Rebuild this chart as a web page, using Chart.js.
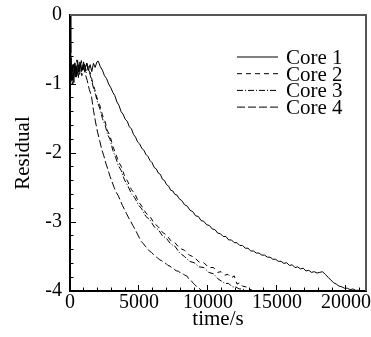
<!DOCTYPE html>
<html>
<head>
<meta charset="utf-8">
<script src="https://cdn.jsdelivr.net/npm/chart.js@4.4.0/dist/chart.umd.min.js"></script>
<style>
  html, body { margin: 0; padding: 0; background: #fff; }
  #wrap { width: 371px; height: 337px; }
</style>
</head>
<body>
<div id="wrap"><canvas id="chart" width="371" height="337"></canvas></div>
<script>
// series (time in s, log residual)
const seriesLabels = ['Core 1', 'Core 2', 'Core 3', 'Core 4'];

const core1Time = [0, 60, 120, 200, 280, 360, 450, 550, 650, 760, 870, 980, 1100, 1220, 1340, 1460, 1580, 1700, 1820, 1950,
  2050, 2200, 2350, 2500, 2650, 2800, 2950, 3100, 3250, 3400, 3550, 3700, 3850, 4000, 4150, 4300, 4450, 4600, 4750, 4900,
  5050, 5200, 5350, 5500, 5650, 5800, 5950, 6100, 6250, 6400, 6550, 6700, 6850, 7000, 7150, 7300, 7450, 7600, 7750, 7900,
  8100, 8300, 8500, 8700, 8900, 9100, 9300, 9500, 9700, 9900, 10100, 10300, 10500, 10700, 10900, 11100, 11300, 11500, 11700, 11900,
  12100, 12300, 12500, 12700, 12900, 13100, 13300, 13500, 13700, 13900, 14100, 14300, 14500, 14700, 14900, 15100, 15300, 15500, 15700, 15900,
  16100, 16300, 16500, 16700, 16900, 17100, 17300, 17500, 17700, 17900, 18100, 18300, 18500, 18700, 18900, 19100, 19300, 19500, 19700, 19900,
  20100, 20300, 20500, 20700, 20900, 21100];
const core1Res = [0, -0.55, -0.95, -0.72, -0.98, -0.7, -0.88, -0.66, -0.82, -0.7, -0.8, -0.68, -0.78, -0.7, -0.8, -0.72, -0.82, -0.7, -0.76, -0.68,
  -0.67, -0.75, -0.8, -0.88, -0.92, -1.0, -1.05, -1.12, -1.17, -1.26, -1.31, -1.4, -1.44, -1.51, -1.54, -1.62, -1.65, -1.73, -1.77, -1.84,
  -1.87, -1.93, -1.96, -2.02, -2.05, -2.11, -2.14, -2.21, -2.23, -2.29, -2.31, -2.38, -2.4, -2.46, -2.48, -2.54, -2.55, -2.6, -2.61, -2.66,
  -2.69, -2.75, -2.77, -2.83, -2.85, -2.91, -2.92, -2.98, -2.99, -3.04, -3.05, -3.1, -3.11, -3.16, -3.17, -3.21, -3.21, -3.26, -3.26, -3.3,
  -3.3, -3.34, -3.34, -3.38, -3.38, -3.42, -3.42, -3.45, -3.45, -3.48, -3.48, -3.51, -3.51, -3.54, -3.54, -3.57, -3.57, -3.6, -3.59, -3.63,
  -3.62, -3.66, -3.65, -3.68, -3.67, -3.71, -3.7, -3.73, -3.72, -3.74, -3.73, -3.72, -3.76, -3.8, -3.84, -3.88, -3.9, -3.93, -3.94, -3.96,
  -3.96, -3.98, -3.97, -3.99, -3.99, -4.0];

const core2Time = [0, 40, 120, 200, 300, 400, 500, 620, 740, 860, 980, 1100, 1220, 1340, 1480, 1640, 1800, 1980, 2150, 2350,
  2550, 2720, 2900, 3100, 3300, 3500, 3700, 3950, 4200, 4450, 4700, 4950, 5200, 5500, 5800, 6100, 6400, 6700, 7000, 7300,
  7600, 7950, 8300, 8650, 9000, 9350, 9700, 10050, 10400, 10700, 10950, 11200, 11450, 11700, 11900, 12100, 12300, 12500, 12750, 13000, 13300];
const core2Res = [-0.3, -0.95, -0.7, -1.0, -0.75, -0.9, -0.65, -0.85, -0.7, -0.88, -0.72, -0.82, -0.7, -0.8, -0.84, -0.98, -1.08, -1.22, -1.3, -1.45,
  -1.55, -1.68, -1.75, -1.9, -2.0, -2.12, -2.19, -2.33, -2.42, -2.53, -2.59, -2.7, -2.77, -2.87, -2.92, -3.02, -3.07, -3.15, -3.19, -3.27,
  -3.3, -3.38, -3.41, -3.48, -3.51, -3.58, -3.59, -3.66, -3.66, -3.73, -3.72, -3.77, -3.76, -3.81, -3.78, -3.9, -3.88, -3.93, -3.94, -3.97, -4.0];

const core3Time = [0, 60, 150, 250, 350, 460, 580, 700, 820, 940, 1060, 1180, 1300, 1420, 1560, 1700, 1850, 2000, 2150, 2350,
  2550, 2720, 2900, 3100, 3300, 3500, 3700, 3950, 4200, 4450, 4700, 4950, 5200, 5500, 5800, 6100, 6400, 6700, 7000, 7300,
  7600, 7950, 8300, 8650, 9000, 9350, 9700, 10050, 10400, 10700, 11000, 11250, 11500, 11750, 12000, 12250, 12500, 12850];
const core3Res = [-0.6, -1.0, -0.75, -0.92, -0.68, -0.9, -0.72, -0.86, -0.66, -0.8, -0.7, -0.84, -0.74, -0.84, -0.94, -1.06, -1.15, -1.27, -1.35, -1.5,
  -1.6, -1.73, -1.8, -1.96, -2.06, -2.18, -2.25, -2.39, -2.48, -2.59, -2.65, -2.75, -2.81, -2.92, -2.97, -3.07, -3.11, -3.2, -3.24, -3.32,
  -3.35, -3.45, -3.5, -3.57, -3.59, -3.65, -3.66, -3.73, -3.75, -3.82, -3.86, -3.89, -3.89, -3.94, -3.94, -3.97, -3.97, -4.0];

const core4Time = [0, 80, 170, 270, 380, 490, 600, 720, 840, 960, 1100, 1250, 1400, 1550, 1700, 1850, 2000, 2150, 2300, 2450,
  2600, 2750, 2900, 3050, 3200, 3350, 3500, 3650, 3800, 3950, 4100, 4250, 4400, 4550, 4700, 4850, 5000, 5150, 5300, 5450,
  5600, 5750, 5900, 6050, 6200, 6350, 6500, 6650, 6800, 6950, 7100, 7250, 7400, 7550, 7700, 7850, 8000, 8150, 8300, 8450,
  8600, 8750, 8900, 9050, 9200, 9350, 9500, 9650];
const core4Res = [-0.8, -0.62, -0.95, -0.7, -0.88, -0.74, -0.92, -0.68, -0.82, -0.72, -0.85, -0.95, -1.08, -1.17, -1.38, -1.55, -1.7, -1.82, -1.95, -2.04,
  -2.15, -2.24, -2.34, -2.42, -2.5, -2.57, -2.62, -2.69, -2.76, -2.82, -2.88, -2.94, -2.99, -3.05, -3.1, -3.16, -3.22, -3.28, -3.31, -3.35,
  -3.38, -3.42, -3.44, -3.47, -3.5, -3.52, -3.55, -3.56, -3.59, -3.6, -3.63, -3.64, -3.67, -3.68, -3.71, -3.71, -3.74, -3.74, -3.77, -3.78,
  -3.82, -3.84, -3.88, -3.91, -3.94, -3.96, -3.99, -4.0];

// axis ticks
const xMajorTicks = [0, 5000, 10000, 15000, 20000];
const xMinorStep = 1000;
const xMax = 21450;
const yMajorTicks = [-4, -3, -2, -1, 0];
const yMinorStep = 0.2;

const serif = 'Liberation Serif, Times New Roman, serif';

const toPoints = (ts, vs) => ts.map((t, i) => ({ x: t, y: vs[i] }));

function stepTicks(min, max, step) {
  const out = [];
  for (let k = 0; min + k * step <= max + 1e-9; k++) out.push({ value: +(min + k * step).toFixed(6) });
  return out;
}

// legend drawn inside the plot, using each dataset's own dash style
const innerLegend = {
  id: 'innerLegend',
  afterDatasetsDraw(chart) {
    const ctx = chart.ctx;
    const x0 = 237, x1 = 278, tx = 286;
    ctx.save();
    ctx.font = '21px ' + serif;
    ctx.textBaseline = 'alphabetic';
    ctx.fillStyle = '#000';
    chart.data.datasets.forEach((ds, i) => {
      const base = 64 + i * 16.7;
      const ly = base - 7;
      ctx.beginPath();
      ctx.setLineDash(ds.borderDash || []);
      ctx.strokeStyle = ds.borderColor;
      ctx.lineWidth = ds.borderWidth;
      ctx.moveTo(x0, ly);
      ctx.lineTo(x1, ly);
      ctx.stroke();
      ctx.setLineDash([]);
      ctx.fillText(ds.label, tx, base);
    });
    ctx.restore();
  }
};

// top and right edges of the frame
const frame = {
  id: 'frame',
  afterDraw(chart) {
    const { left, right, top, bottom } = chart.chartArea;
    const ctx = chart.ctx;
    ctx.save();
    ctx.strokeStyle = '#555';
    ctx.lineWidth = 2;
    ctx.beginPath();
    ctx.moveTo(left, top);
    ctx.lineTo(right, top);
    ctx.lineTo(right, bottom);
    ctx.stroke();
    ctx.restore();
  }
};

const noPad = (s) => { s.paddingLeft = 0; s.paddingRight = 0; s.paddingTop = 0; s.paddingBottom = 0; };

const ctx = document.getElementById('chart').getContext('2d');
new Chart(ctx, {
  type: 'line',
  data: {
    datasets: [
      { label: seriesLabels[0], data: toPoints(core1Time, core1Res), borderColor: '#000', borderWidth: 1, borderDash: [] },
      { label: seriesLabels[1], data: toPoints(core2Time, core2Res), borderColor: '#000', borderWidth: 1, borderDash: [5, 4] },
      { label: seriesLabels[2], data: toPoints(core3Time, core3Res), borderColor: '#000', borderWidth: 1, borderDash: [6, 2, 1, 2] },
      { label: seriesLabels[3], data: toPoints(core4Time, core4Res), borderColor: '#000', borderWidth: 1, borderDash: [8, 3] }
    ]
  },
  options: {
    responsive: false,
    animation: false,
    layout: { padding: { left: 0, right: 5, top: 15, bottom: 0 } },
    elements: { point: { radius: 0 }, line: { tension: 0 } },
    plugins: { legend: { display: false }, tooltip: { enabled: false } },
    scales: {
      x: {
        type: 'linear', position: 'bottom', weight: 1,
        min: 0, max: xMax,
        afterBuildTicks: (s) => { s.ticks = xMajorTicks.map(v => ({ value: v })); },
        afterFit: (s) => { s.height = 46; noPad(s); },
        border: { display: true, color: '#000', width: 2 },
        grid: { drawOnChartArea: false, tickLength: -6, tickColor: '#000', tickWidth: 1 },
        ticks: {
          autoSkip: false, maxRotation: 0,
          padding: 6, color: '#000', font: { family: serif, size: 20 },
          callback: (v) => String(v)
        },
        title: { display: true, text: 'time/s', color: '#000', font: { family: serif, size: 21 }, padding: { top: 0, bottom: 5 } }
      },
      xMinor: {
        type: 'linear', position: 'bottom', weight: 0,
        min: 0, max: xMax,
        afterBuildTicks: (s) => { s.ticks = stepTicks(0, xMax, xMinorStep); },
        afterFit: (s) => { s.height = 0; noPad(s); },
        border: { display: false },
        grid: { drawOnChartArea: false, tickLength: -3.5, tickColor: '#000', tickWidth: 1 },
        ticks: { display: false }
      },
      y: {
        type: 'linear', position: 'left', weight: 1,
        min: -4, max: 0,
        afterBuildTicks: (s) => { s.ticks = yMajorTicks.map(v => ({ value: v })); },
        afterFit: (s) => { s.width = 70; noPad(s); },
        border: { display: true, color: '#000', width: 2 },
        grid: { drawOnChartArea: false, tickLength: -6, tickColor: '#000', tickWidth: 1 },
        ticks: {
          autoSkip: false,
          padding: 14, color: '#000', font: { family: serif, size: 20 },
          callback: (v) => String(v)
        },
        title: { display: true, text: 'Residual', color: '#000', font: { family: serif, size: 21 }, padding: { top: 11, bottom: 0 } }
      },
      yMinor: {
        type: 'linear', position: 'left', weight: 0,
        min: -4, max: 0,
        afterBuildTicks: (s) => { s.ticks = stepTicks(-4, 0, yMinorStep); },
        afterFit: (s) => { s.width = 0; noPad(s); },
        border: { display: false },
        grid: { drawOnChartArea: false, tickLength: -3.5, tickColor: '#000', tickWidth: 1 },
        ticks: { display: false }
      }
    }
  },
  plugins: [innerLegend, frame]
});
</script>
</body>
</html>
